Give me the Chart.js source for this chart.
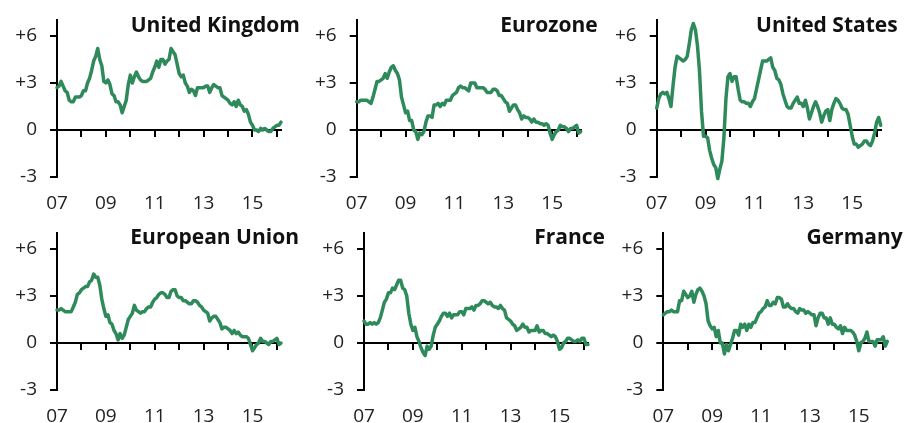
<!DOCTYPE html>
<html><head><meta charset="utf-8">
<script src="https://cdn.jsdelivr.net/npm/chart.js@4.4.1/dist/chart.umd.min.js"></script>
<style>
html,body{margin:0;padding:0;background:#fff;width:905px;height:423px;overflow:hidden;position:relative;}
canvas{position:absolute;}
.t{position:absolute;font-family:"Open Sans";font-weight:bold;font-size:21px;line-height:21px;color:#111;white-space:nowrap;text-align:right;}
</style></head><body>
<script>
// Annual inflation, % y/y, monthly from Jan 2007 to Mar 2016
const ukValues = [
  2.7, 2.8, 3.1, 2.8, 2.5, 2.4, 1.9, 1.8, 1.8, 2.1, 2.1, 2.1,
  2.2, 2.5, 2.5, 3.0, 3.3, 3.8, 4.4, 4.7, 5.2, 4.5, 4.1, 3.1,
  3.0, 3.2, 2.9, 2.3, 2.2, 1.8, 1.8, 1.6, 1.1, 1.5, 1.9, 2.9,
  3.5, 3.0, 3.4, 3.7, 3.4, 3.2, 3.1, 3.1, 3.1, 3.2, 3.3, 3.7,
  4.0, 4.4, 4.0, 4.5, 4.5, 4.2, 4.4, 4.5, 5.2, 5.0, 4.8, 4.2,
  3.6, 3.4, 3.5, 3.0, 2.8, 2.4, 2.6, 2.5, 2.2, 2.7, 2.7, 2.7,
  2.7, 2.8, 2.8, 2.4, 2.7, 2.9, 2.8, 2.7, 2.7, 2.2, 2.1, 2.0,
  1.9, 1.7, 1.6, 1.8, 1.5, 1.9, 1.6, 1.5, 1.2, 1.3, 1.0, 0.5,
  0.3, 0.0, 0.0, -0.1, 0.1, 0.0, 0.1, 0.0, -0.1, -0.1, 0.1, 0.2,
  0.3, 0.3, 0.5
];
const eurozoneValues = [
  1.8, 1.8, 1.9, 1.9, 1.9, 1.9, 1.8, 1.7, 2.1, 2.6, 3.1, 3.1,
  3.2, 3.3, 3.6, 3.3, 3.7, 4.0, 4.1, 3.8, 3.6, 3.2, 2.1, 1.6,
  1.1, 1.2, 0.6, 0.6, 0.0, -0.1, -0.6, -0.2, -0.3, -0.1, 0.5, 0.9,
  0.9, 0.8, 1.6, 1.6, 1.7, 1.5, 1.7, 1.6, 1.9, 1.9, 1.9, 2.2,
  2.3, 2.4, 2.7, 2.8, 2.7, 2.7, 2.6, 2.5, 3.0, 3.0, 3.0, 2.7,
  2.7, 2.7, 2.7, 2.6, 2.4, 2.4, 2.4, 2.6, 2.6, 2.5, 2.2, 2.2,
  2.0, 1.8, 1.7, 1.2, 1.4, 1.6, 1.6, 1.3, 1.1, 0.7, 0.9, 0.8,
  0.8, 0.7, 0.5, 0.7, 0.5, 0.5, 0.4, 0.4, 0.3, 0.4, 0.3, -0.2,
  -0.6, -0.3, -0.1, 0.0, 0.3, 0.2, 0.2, 0.1, -0.1, 0.1, 0.1, 0.2,
  0.3, -0.2, -0.1
];
const usValues = [
  1.4, 2.0, 2.3, 2.4, 2.3, 2.4, 2.0, 1.5, 2.8, 4.0, 4.7, 4.6,
  4.5, 4.4, 4.5, 4.7, 5.5, 6.4, 6.8, 6.4, 5.4, 3.8, 1.2, -0.4,
  -0.4, -0.5, -1.3, -1.8, -2.2, -2.4, -3.1, -2.5, -2.0, -0.5, 2.0, 3.4,
  3.6, 3.1, 3.4, 3.4, 2.6, 1.9, 1.8, 1.8, 1.7, 1.7, 1.5, 1.8,
  2.0, 2.6, 3.2, 3.8, 4.4, 4.4, 4.4, 4.5, 4.6, 4.0, 3.8, 3.3,
  3.2, 2.9, 2.3, 1.9, 1.5, 1.4, 1.4, 1.7, 1.9, 2.1, 1.7, 1.7,
  1.5, 1.9, 1.4, 0.7, 1.1, 1.5, 1.8, 1.5, 1.1, 0.5, 0.9, 1.2,
  1.3, 0.6, 1.3, 1.7, 2.0, 1.9, 1.7, 1.4, 1.3, 1.3, 1.0, 0.3,
  -0.4, -0.9, -0.9, -1.1, -1.0, -0.9, -0.7, -0.7, -0.9, -1.0, -0.7, -0.2,
  0.5, 0.8, 0.3
];
const euValues = [
  2.1, 2.1, 2.2, 2.1, 2.0, 2.0, 2.0, 2.0, 2.3, 2.6, 3.1, 3.2,
  3.4, 3.5, 3.6, 3.6, 3.9, 4.0, 4.4, 4.2, 4.2, 3.7, 2.8, 2.2,
  1.7, 1.8, 1.3, 1.2, 0.8, 0.6, 0.2, 0.6, 0.3, 0.5, 1.0, 1.5,
  1.7, 1.9, 2.4, 2.1, 2.0, 1.9, 2.0, 2.0, 2.2, 2.3, 2.3, 2.6,
  2.8, 2.9, 3.1, 3.2, 3.2, 3.1, 2.9, 2.9, 3.3, 3.4, 3.4, 3.0,
  2.9, 2.9, 2.7, 2.7, 2.6, 2.5, 2.5, 2.7, 2.7, 2.6, 2.4, 2.3,
  2.1, 2.0, 1.9, 1.4, 1.6, 1.7, 1.7, 1.5, 1.3, 0.9, 1.0, 1.0,
  0.9, 0.8, 0.6, 0.8, 0.6, 0.7, 0.5, 0.4, 0.4, 0.4, 0.3, -0.1,
  -0.5, -0.3, -0.1, 0.0, 0.3, 0.1, 0.1, 0.0, -0.1, 0.1, 0.1, 0.2,
  0.3, -0.1, 0.0
];
const franceValues = [
  1.4, 1.2, 1.2, 1.3, 1.2, 1.3, 1.2, 1.3, 1.6, 2.1, 2.6, 2.8,
  3.2, 3.2, 3.5, 3.4, 3.7, 4.0, 4.0, 3.5, 3.4, 3.0, 1.9, 1.2,
  0.8, 1.0, 0.4, 0.1, -0.3, -0.6, -0.8, -0.2, -0.4, -0.2, 0.5, 1.0,
  1.2, 1.4, 1.7, 1.9, 1.9, 1.7, 1.9, 1.6, 1.8, 1.8, 1.8, 2.0,
  2.0, 1.8, 2.2, 2.2, 2.2, 2.3, 2.1, 2.4, 2.4, 2.5, 2.7, 2.7,
  2.6, 2.5, 2.6, 2.4, 2.3, 2.3, 2.2, 2.4, 2.2, 2.1, 1.6, 1.5,
  1.4, 1.2, 1.1, 0.8, 0.9, 1.0, 1.2, 1.0, 1.0, 0.7, 0.8, 0.8,
  0.8, 1.1, 0.7, 0.8, 0.8, 0.6, 0.6, 0.5, 0.4, 0.5, 0.4, 0.1,
  -0.4, -0.3, 0.0, 0.1, 0.3, 0.3, 0.2, 0.1, 0.1, 0.2, 0.1, 0.3,
  0.3, -0.1, -0.1
];
const germanyValues = [
  1.8, 1.9, 2.0, 2.0, 2.1, 2.0, 2.0, 2.0, 2.7, 2.7, 3.3, 3.1,
  2.9, 3.0, 3.3, 2.6, 3.1, 3.4, 3.5, 3.3, 3.0, 2.5, 1.4, 1.1,
  0.9, 1.0, 0.4, 0.8, 0.0, 0.0, -0.7, -0.1, -0.5, -0.1, 0.3, 0.8,
  0.8, 0.5, 1.2, 1.0, 1.2, 0.8, 1.2, 1.0, 1.3, 1.3, 1.6, 1.9,
  2.0, 2.2, 2.3, 2.7, 2.4, 2.4, 2.6, 2.5, 2.9, 2.9, 2.8, 2.3,
  2.3, 2.5, 2.3, 2.2, 2.2, 2.0, 1.9, 2.2, 2.1, 2.1, 1.9, 2.0,
  1.9, 1.8, 1.8, 1.1, 1.6, 1.9, 1.9, 1.6, 1.6, 1.2, 1.6, 1.2,
  1.2, 1.0, 0.9, 1.1, 0.6, 1.0, 0.8, 0.8, 0.8, 0.7, 0.5, 0.1,
  -0.5, 0.0, 0.1, 0.3, 0.7, 0.1, 0.1, 0.1, -0.2, 0.2, 0.2, 0.2,
  0.4, -0.2, 0.1
];
const panelTitles = ["United Kingdom", "Eurozone", "United States", "European Union", "France", "Germany"];
const yearTickMonths = [0, 12, 24, 36, 48, 60, 72, 84, 96, 108];   // Jan of each year, months since Jan 2007
const yearLabelMonths = [0, 24, 48, 72, 96];
const yearLabels = ["07", "09", "11", "13", "15"];
const yTickValues = [-3, 0, 3, 6];

const FONT = '"Open Sans"';
const LINE = '#2e8a5a';
const seriesList = [ukValues, eurozoneValues, usValues, euValues, franceValues, germanyValues];

// layout of the six panels (page pixels)
const layoutBoxes = [
  {cl: 0,   ct: -5,  cw: 300, ch: 220, axisX: 57,    titleRight: 300,   titleTop: 13.7},
  {cl: 300, ct: -5,  cw: 300, ch: 220, axisX: 356.7, titleRight: 597.7, titleTop: 13.7},
  {cl: 600, ct: -5,  cw: 305, ch: 220, axisX: 656.7, titleRight: 897.7, titleTop: 13.7},
  {cl: 0,   ct: 208, cw: 300, ch: 215, axisX: 57,    titleRight: 299,   titleTop: 226.4},
  {cl: 300, ct: 208, cw: 300, ch: 215, axisX: 364,   titleRight: 605,   titleTop: 226.4},
  {cl: 600, ct: 208, cw: 305, ch: 215, axisX: 663.3, titleRight: 902.7, titleTop: 226.4}
];
const PAD_TOP = 25.3, PLOT_BOTTOM = 182, PLOT_W = 224;

layoutBoxes.forEach((b, k) => {
  const cv = document.createElement('canvas');
  cv.width = b.cw; cv.height = b.ch;
  cv.style.left = b.cl + 'px'; cv.style.top = b.ct + 'px';
  cv.style.width = b.cw + 'px'; cv.style.height = b.ch + 'px';
  document.body.appendChild(cv);

  const t = document.createElement('div');
  t.className = 't';
  t.textContent = panelTitles[k];
  t.style.right = (905 - b.titleRight) + 'px';
  t.style.top = b.titleTop + 'px';
  document.body.appendChild(t);

  const yw = b.axisX - b.cl;
  const padRight = b.cw - (yw + PLOT_W);
  const values = seriesList[k];

  new Chart(cv, {
    type: 'line',
    data: {
      datasets: [{
        data: values.map((v, i) => ({x: i, y: v})),
        borderColor: LINE, borderWidth: 3.5, pointRadius: 0, tension: 0,
        fill: false, clip: 6, borderJoinStyle: 'round', borderCapStyle: 'round'
      }]
    },
    options: {
      responsive: false, animation: false, events: [],
      layout: {padding: {top: PAD_TOP, left: 0, right: padRight, bottom: 0}},
      plugins: {legend: {display: false}, tooltip: {enabled: false}, title: {display: false}},
      scales: {
        x: {
          type: 'linear', position: 'bottom', min: 0, max: 110,
          afterBuildTicks: s => { s.ticks = yearLabelMonths.map(v => ({value: v})); },
          ticks: {
            callback: v => yearLabels[yearLabelMonths.indexOf(v)] ?? '',
            font: {family: FONT, size: 19}, color: '#222', padding: 15.5,
            maxRotation: 0, autoSkip: false
          },
          grid: {display: false, drawTicks: false},
          border: {display: false},
          afterFit: s => { s.height = b.ch - PLOT_BOTTOM; }
        },
        x0: {
          type: 'linear', axis: 'x', position: {y: 0}, min: 0, max: 110,
          afterBuildTicks: s => { s.ticks = yearTickMonths.map(v => ({value: v})); },
          ticks: {display: false},
          grid: {drawOnChartArea: false, drawTicks: true, tickLength: 6, color: '#000', lineWidth: 2},
          border: {display: true, color: '#000', width: 2}
        },
        y: {
          type: 'linear', position: 'left', min: -3, max: 7,
          afterBuildTicks: s => { s.ticks = yTickValues.map(v => ({value: v})); },
          ticks: {
            callback: v => (v > 0 ? '+' + v : String(v)),
            font: {family: FONT, size: 19}, color: '#222', padding: 13
          },
          grid: {drawOnChartArea: false, drawTicks: true, tickLength: 7, color: '#000', lineWidth: 2},
          border: {display: true, color: '#000', width: 2},
          afterFit: s => { s.width = yw; }
        }
      }
    }
  });
});
</script>
</body></html>
